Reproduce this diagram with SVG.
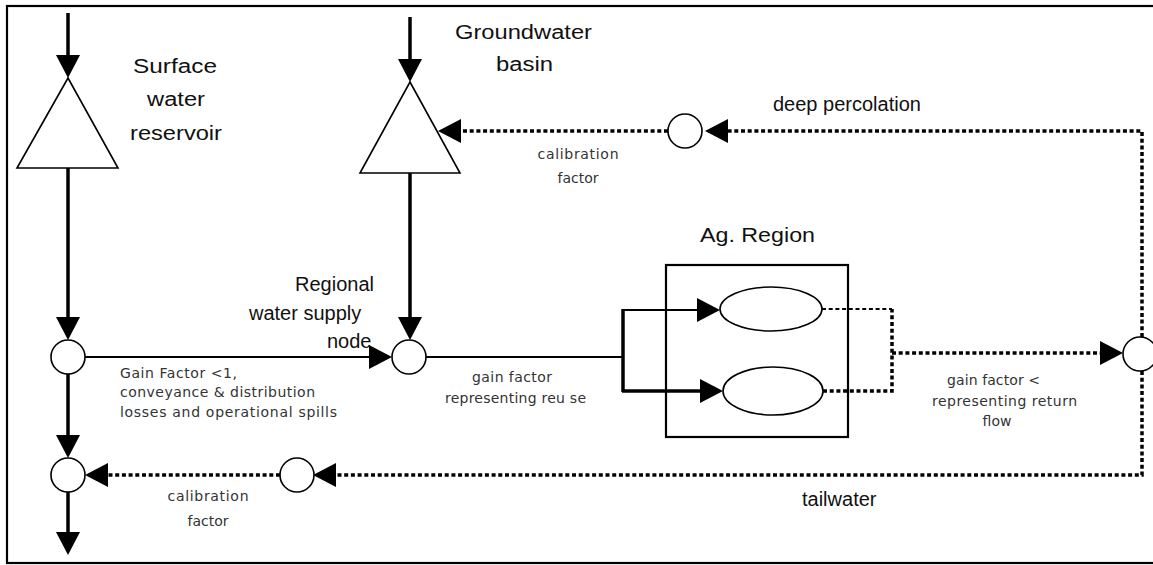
<svg xmlns="http://www.w3.org/2000/svg" width="1153" height="565" viewBox="0 0 1153 565">
<defs>
<marker id="ah" markerUnits="userSpaceOnUse" viewBox="0 0 23 24" markerWidth="23" markerHeight="24" refX="13" refY="12" orient="auto">
<path d="M0,0 L23,12 L0,24 Z" fill="#000"/>
</marker>
</defs>
<style>
.big{font-family:"Liberation Sans",Arial,sans-serif;font-size:20px;fill:#111}
.sm{font-family:"DejaVu Sans","Liberation Sans",sans-serif;font-size:14px;fill:#333}
.shape{fill:#fff;stroke:#000;stroke-width:1.6}
.thick{fill:none;stroke:#000;stroke-width:3.5}
.thin{fill:none;stroke:#000;stroke-width:2.2}
.dot{fill:none;stroke:#000;stroke-width:3.5;stroke-dasharray:4 2.7}
.dotthin{fill:none;stroke:#000;stroke-width:2.2;stroke-dasharray:4 2.7}
</style>
<rect x="7" y="6" width="1160" height="557" fill="#fff" stroke="#000" stroke-width="2.2"/>

<g id="connectors">
<path class="thick" d="M68,13 V68" marker-end="url(#ah)"/>
<path class="thick" d="M410,17 V72" marker-end="url(#ah)"/>
<path class="thick" d="M68,168 V330" marker-end="url(#ah)"/>
<path class="thick" d="M410,173 V330" marker-end="url(#ah)"/>
<path class="thin" d="M85,357 H382" marker-end="url(#ah)"/>
<path class="thin" d="M426,357 H623"/>
<path class="thick" d="M623,309 V392"/>
<path class="thin" d="M622,310 H710" marker-end="url(#ah)"/>
<path class="thick" d="M622,391 H713" marker-end="url(#ah)"/>
<path class="thick" d="M68,374 V448" marker-end="url(#ah)"/>
<path class="thick" d="M68,492 V545" marker-end="url(#ah)"/>
<path class="dot" d="M1142,337 V131 H715" marker-end="url(#ah)"/>
<path class="dot" d="M668,131 H448" marker-end="url(#ah)"/>
<path class="dot" d="M1142,371 V475 H323" marker-end="url(#ah)"/>
<path class="dot" d="M280,475 H95" marker-end="url(#ah)"/>
<path class="dotthin" d="M822,309 H892"/>
<path class="dot" d="M823,391 H892 V309"/>
<path class="dot" d="M892,353 H1113" marker-end="url(#ah)"/>
</g>

<g id="surface-reservoir">
<polygon class="shape" points="68,78 118,168 17,168"/>
<text class="big" x="175" y="73" text-anchor="middle" font-size="22" textLength="84" lengthAdjust="spacingAndGlyphs">Surface</text>
<text class="big" x="176" y="106" text-anchor="middle" font-size="22" textLength="58" lengthAdjust="spacingAndGlyphs">water</text>
<text class="big" x="176" y="140" text-anchor="middle" font-size="22" textLength="92" lengthAdjust="spacingAndGlyphs">reservoir</text>
</g>

<g id="groundwater-basin">
<polygon class="shape" points="410,82 460,173 360,173"/>
<text class="big" x="523.5" y="39" text-anchor="middle" font-size="23" textLength="137" lengthAdjust="spacingAndGlyphs">Groundwater</text>
<text class="big" x="524.5" y="71" text-anchor="middle" font-size="23" textLength="57" lengthAdjust="spacingAndGlyphs">basin</text>
</g>

<g id="gw-calibration">
<circle class="shape" cx="685" cy="131" r="17"/>
<text class="sm" x="578" y="159" text-anchor="middle" textLength="81">calibration</text>
<text class="sm" x="578" y="183" text-anchor="middle">factor</text>
</g>

<g id="deep-percolation-label">
<text class="big" x="773" y="111">deep percolation</text>
</g>

<g id="split-node">
<circle class="shape" cx="68" cy="357" r="17"/>
<text class="sm" x="120" y="378" textLength="117">Gain Factor &lt;1,</text>
<text class="sm" x="120" y="397" textLength="195">conveyance &amp; distribution</text>
<text class="sm" x="120" y="417" textLength="217">losses and operational spills</text>
</g>

<g id="regional-node">
<circle class="shape" cx="409" cy="357" r="17"/>
<text class="big" x="295" y="291">Regional</text>
<text class="big" x="249" y="320">water supply</text>
<text class="big" x="327" y="348">node</text>
<text class="sm" x="512" y="382" text-anchor="middle" textLength="80">gain factor</text>
<text class="sm" x="445" y="403" textLength="141">representing reu se</text>
</g>

<g id="ag-region">
<rect x="666" y="265" width="182" height="172" fill="none" stroke="#000" stroke-width="2.2"/>
<text class="big" x="700" y="242" font-size="24" textLength="115" lengthAdjust="spacingAndGlyphs">Ag. Region</text>
<ellipse class="shape" cx="771" cy="309" rx="51" ry="22"/>
<ellipse class="shape" cx="773" cy="391" rx="50" ry="24"/>
</g>

<g id="return-node">
<circle class="shape" cx="1140" cy="354" r="17"/>
<text class="sm" x="947" y="385" textLength="93">gain factor &lt;</text>
<text class="sm" x="932" y="406" textLength="145">representing return</text>
<text class="sm" x="997" y="426" text-anchor="middle">flow</text>
</g>

<g id="confluence-node">
<circle class="shape" cx="68" cy="475" r="17"/>
</g>

<g id="tail-calibration">
<circle class="shape" cx="297" cy="475" r="17"/>
<text class="sm" x="208" y="501" text-anchor="middle" textLength="81">calibration</text>
<text class="sm" x="208" y="526" text-anchor="middle">factor</text>
</g>

<g id="tailwater-label">
<text class="big" x="802" y="506">tailwater</text>
</g>
</svg>
